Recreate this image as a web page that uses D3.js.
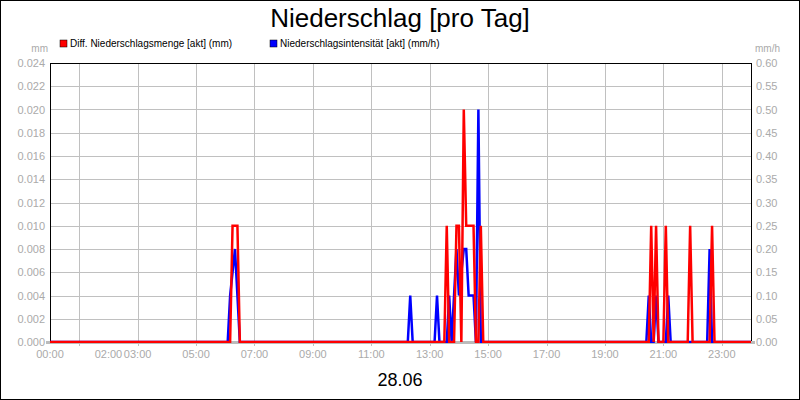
<!DOCTYPE html><html><head><meta charset="utf-8"><script src="https://d3js.org/d3.v7.min.js"></script>
<style>body{margin:0;background:#fff}text{font-family:Arial,"Liberation Sans",sans-serif}</style></head><body><svg id="c" width="800" height="400"></svg>
<script>
const redTimes=["00:00","06:10","06:15","06:25","06:30","13:30","13:35","13:40","13:50","13:55","14:00","14:05","14:10","14:15","14:30","14:35","14:40","14:45","14:50","20:30","20:35","20:40","20:45","20:50","21:00","21:05","21:10","21:50","21:55","22:00","22:35","22:40","22:45","24:00"];
const redValues=[0,0,.01,.01,0,0,.01,0,0,.01,.01,0,.02,.01,.01,0,0,.01,0,0,.01,0,.01,0,0,.01,0,0,.01,0,0,.01,0,0];
const blueTimes=["00:00","06:05","06:10","06:20","06:30","12:15","12:20","12:25","13:10","13:15","13:20","13:35","13:40","13:45","13:55","14:00","14:10","14:15","14:20","14:30","14:35","14:40","14:45","20:25","20:30","20:35","20:40","20:45","20:50","21:05","21:10","21:15","22:30","22:35","22:40","24:00"];
const blueValues=[0,0,.1,.2,0,0,.1,0,0,.1,0,0,.1,0,.2,.1,.2,.2,.1,.1,0,.5,0,0,.1,0,0,.1,0,0,.1,0,0,.2,0,0];
const xTickLabels=["00:00","02:00","03:00","05:00","07:00","09:00","11:00","13:00","15:00","17:00","19:00","21:00","23:00"];
const gridHours=[1,3,5,7,9,11,13,15,17,19,21,23];
const leftTicks=d3.range(0,0.0241,0.002), rightTicks=d3.range(0,0.601,0.05);
const h=s=>{const[a,b]=s.split(":").map(Number);return a+b/60;};
const svg=d3.select("#c");
const L=50,R=751,T=63,B=342;
const x=d3.scaleLinear().domain([0,24]).range([L,R]);
const yl=d3.scaleLinear().domain([0,0.024]).range([B,T]);
const yr=d3.scaleLinear().domain([0,0.6]).range([B,T]);
svg.append("rect").attr("x",0.5).attr("y",0.5).attr("width",799).attr("height",399).attr("fill","#fff").attr("stroke","#000");
svg.append("text").attr("x",400).attr("y",27).attr("text-anchor","middle").attr("font-size",26).text("Niederschlag [pro Tag]");
const g=svg.append("g");
g.selectAll(".hg").data(leftTicks).join("line").attr("x1",L).attr("x2",R).attr("y1",d=>Math.round(yl(d))+.5).attr("y2",d=>Math.round(yl(d))+.5).attr("stroke","#c0c0c0");
g.selectAll(".vg").data(gridHours).join("line").attr("y1",T).attr("y2",B+4).attr("x1",d=>Math.round(x(d))+.5).attr("x2",d=>Math.round(x(d))+.5).attr("stroke","#c0c0c0");
svg.append("rect").attr("x",L+.5).attr("y",T+.5).attr("width",R-L).attr("height",B-T).attr("fill","none").attr("stroke","#000");
svg.append("line").attr("x1",L-4).attr("x2",R+4).attr("y1",B+.5).attr("y2",B+.5).attr("stroke","#bbb").attr("stroke-width",3);
svg.selectAll(".lt").data(leftTicks).join("text").attr("x",L-5).attr("y",d=>yl(d)+4).attr("text-anchor","end").attr("font-size",11).attr("fill","#aaa").text(d=>d.toFixed(3));
svg.selectAll(".rt").data(rightTicks).join("text").attr("x",R+5).attr("y",d=>yr(d)+4).attr("font-size",11).attr("fill","#aaa").text(d=>d.toFixed(2));
svg.selectAll(".xt").data(xTickLabels).join("text").attr("x",d=>x(h(d))).attr("y",B+16).attr("text-anchor","middle").attr("font-size",11).attr("fill","#aaa").text(d=>d);
svg.append("text").attr("x",L-2).attr("y",52).attr("text-anchor","end").attr("font-size",10).attr("fill","#aaa").text("mm");
svg.append("text").attr("x",R+4).attr("y",52).attr("font-size",10).attr("fill","#aaa").text("mm/h");
const leg=[["Diff. Niederschlagsmenge [akt] (mm)","#f00",60],["Niederschlagsintensität [akt] (mm/h)","#00f",270]];
leg.forEach(([t,c,lx])=>{svg.append("rect").attr("x",lx).attr("y",40).attr("width",7).attr("height",7).attr("fill",c).attr("stroke","#000").attr("stroke-width",.5);
svg.append("text").attr("x",lx+10).attr("y",47).attr("font-size",10).text(t);});
const clip=svg.append("clipPath").attr("id","cp").append("rect").attr("x",L).attr("y",T-2).attr("width",R-L).attr("height",B-T+3);
const lr=d3.line().x(d=>x(h(d[0]))).y(d=>yl(d[1]));
const lb=d3.line().x(d=>x(h(d[0]))).y(d=>yr(d[1]));
svg.append("path").attr("clip-path","url(#cp)").attr("d",lb(blueTimes.map((t,i)=>[t,blueValues[i]]))).attr("fill","none").attr("stroke","#00f").attr("stroke-width",2.5);
svg.append("path").attr("clip-path","url(#cp)").attr("d",lr(redTimes.map((t,i)=>[t,redValues[i]]))).attr("fill","none").attr("stroke","#f00").attr("stroke-width",2.5);
svg.append("text").attr("x",400).attr("y",386).attr("text-anchor","middle").attr("font-size",18).text("28.06");
</script></body></html>
